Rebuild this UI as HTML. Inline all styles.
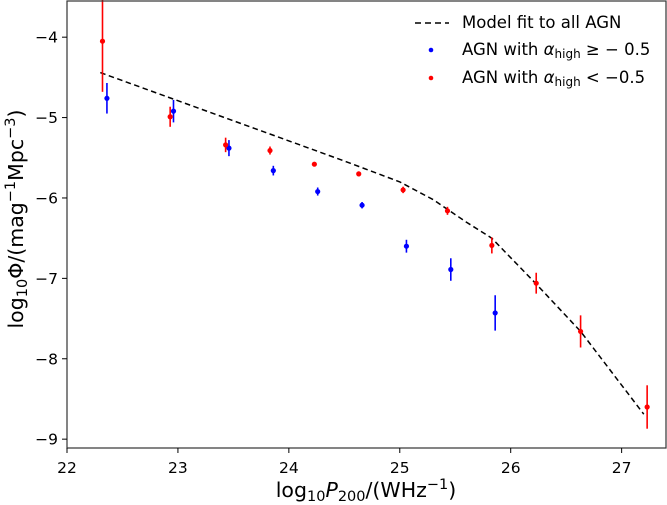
<!DOCTYPE html>
<html><head><meta charset="utf-8"><style>
body{margin:0;background:#fff;}
svg{display:block;font-family:"DejaVu Sans","Liberation Sans",sans-serif;}
</style></head><body>
<svg id="chart" width="667" height="505" xmlns="http://www.w3.org/2000/svg"></svg>
<script>
const blueX=[22.36,22.96,23.46,23.86,24.26,24.66,25.06,25.46,25.86];
const blueY=[-4.76,-4.92,-5.38,-5.66,-5.92,-6.09,-6.60,-6.89,-7.43];
const blueErr=[0.19,0.14,0.10,0.06,0.05,0.04,0.08,0.14,0.22];
const redX=[22.32,22.93,23.43,23.83,24.23,24.63,25.03,25.43,25.83,26.23,26.63,27.23];
const redY=[-4.05,-4.99,-5.34,-5.41,-5.58,-5.70,-5.90,-6.16,-6.59,-7.06,-7.66,-8.60];
const redErr=[0.63,0.125,0.09,0.05,0.025,0.03,0.04,0.05,0.10,0.13,0.20,0.27];
const modelX=[22.3,23,23.5,24,24.5,25,25.3,25.6,25.83,26.23,26.63,27.2];
const modelY=[-4.44,-4.79,-5.04,-5.29,-5.54,-5.80,-6.02,-6.30,-6.50,-7.07,-7.66,-8.69];
const xTicks=[22,23,24,25,26,27];
const yTicks=[-4,-5,-6,-7,-8,-9];

const NS="http://www.w3.org/2000/svg";
const svg=document.getElementById('chart');
const L=67,R=666,T=1,B=448;
const X0=22,X1=27.4,Y0=-9.11,Y1=-3.55;
const sx=v=>L+(v-X0)/(X1-X0)*(R-L);
const sy=v=>B-(v-Y0)/(Y1-Y0)*(B-T);
function mk(tag,attrs,parent){const e=document.createElementNS(NS,tag);for(const k in attrs)e.setAttribute(k,attrs[k]);(parent||svg).appendChild(e);return e;}

let d=modelX.map((x,i)=>(i?'L':'M')+sx(x).toFixed(1)+','+sy(modelY[i]).toFixed(1)).join(' ');
const ml=mk('path',{d:d,fill:'none',stroke:'#000','stroke-width':1.5,'stroke-dasharray':'5.5,3.5'});



function series(xs,ys,es,col,name){
  const g=mk('g',{});
  
  
  xs.forEach((x,i)=>{
    const ln=mk('line',{x1:sx(x),x2:sx(x),y1:sy(ys[i]+es[i]),y2:sy(ys[i]-es[i]),stroke:col,'stroke-width':1.6},g);
    
    
    const c=mk('circle',{cx:sx(x),cy:sy(ys[i]),r:2.6,fill:col},g);
    
    
  });
}
series(blueX,blueY,blueErr,'#0000ff','blue-agn');
series(redX,redY,redErr,'#ff0000','red-agn');

const fr=mk('rect',{x:L,y:T,width:R-L,height:B-T,fill:'none',stroke:'#333','stroke-width':1.2});



xTicks.forEach(t=>{
  const x=sx(t);
  const tk=mk('line',{x1:x,x2:x,y1:B,y2:B+5,stroke:'#000','stroke-width':1});
  
  
  const tx=mk('text',{x:x,y:473,'font-size':15.5,'text-anchor':'middle'});
  tx.textContent=t;
  
  
});
yTicks.forEach(t=>{
  const y=sy(t);
  const tk=mk('line',{x1:L-5,x2:L,y1:y,y2:y,stroke:'#000','stroke-width':1});
  
  
  const tx=mk('text',{x:L-9,y:y+5.5,'font-size':15.5,'text-anchor':'end'});
  tx.textContent='\u2212'+Math.abs(t);
  
  
});
</script>
<svg style="position:absolute;left:0;top:0" width="667" height="505" xmlns="http://www.w3.org/2000/svg" font-family="DejaVu Sans, Liberation Sans, sans-serif">
  <text x="366" y="497" font-size="20.5" text-anchor="middle">log<tspan font-size="14.5" dy="4">10</tspan><tspan dy="-4" font-style="italic">P</tspan><tspan font-size="14.5" dy="4">200</tspan><tspan dy="-4">/(WHz</tspan><tspan font-size="14.5" dy="-8">−1</tspan><tspan dy="8">)</tspan></text>
  <text transform="translate(23,219) rotate(-90)" font-size="20.5" text-anchor="middle">log<tspan font-size="14.5" dy="4">10</tspan><tspan dy="-4">Φ/(mag</tspan><tspan font-size="14.5" dy="-8">−1</tspan><tspan dy="8">Mpc</tspan><tspan font-size="14.5" dy="-8">−3</tspan><tspan dy="8">)</tspan></text>
  <g font-size="16.5">
    <line x1="415" x2="449" y1="23" y2="23" stroke="#000" stroke-width="1.5" stroke-dasharray="6,4"/>
    <text x="462" y="28">Model fit to all AGN</text>
    <circle cx="431" cy="50" r="2.3" fill="#0000ff"/>
    <text x="462" y="55">AGN with <tspan font-style="italic">α</tspan><tspan font-size="12" dy="3">high</tspan><tspan dy="-3"> ≥ − 0.5</tspan></text>
    <circle cx="431" cy="78" r="2.3" fill="#ff0000"/>
    <text x="462" y="83">AGN with <tspan font-style="italic">α</tspan><tspan font-size="12" dy="3">high</tspan><tspan dy="-3"> &lt; −0.5</tspan></text>
  </g>
</svg>
</body></html>
